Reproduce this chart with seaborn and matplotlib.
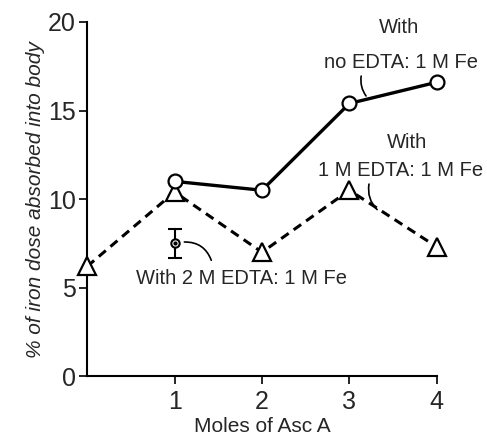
import matplotlib
matplotlib.use('Agg')
import matplotlib.pyplot as plt
import seaborn as sns
import pandas as pd

# values
moles_no_edta = [1, 2, 3, 4]
pct_no_edta = [11.0, 10.5, 15.4, 16.6]

moles_1m_edta = [0, 1, 2, 3, 4]
pct_1m_edta = [6.2, 10.4, 7.0, 10.5, 7.3]

moles_2m_edta = [1]
pct_2m_edta = [7.5]
err_2m_edta = [0.8]

x_ticks = [1, 2, 3, 4]
y_ticks = [0, 5, 10, 15, 20]

sns.set_style('ticks')
plt.rcParams['font.family'] = ['Liberation Sans', 'DejaVu Sans']

fig = plt.figure(figsize=(4.87, 4.4), dpi=100)
ax = fig.add_axes([0.179, 0.145, 0.718, 0.805])

df1 = pd.DataFrame({'x': moles_no_edta, 'y': pct_no_edta})
df2 = pd.DataFrame({'x': moles_1m_edta, 'y': pct_1m_edta})

sns.lineplot(data=df2, x='x', y='y', ax=ax, color='black', lw=2.2,
             linestyle=(0, (3, 2)), marker='^', markersize=13,
             markerfacecolor='white', markeredgecolor='black', markeredgewidth=1.6,
             zorder=3, clip_on=False)
sns.lineplot(data=df1, x='x', y='y', ax=ax, color='black', lw=2.4,
             marker='o', markersize=10,
             markerfacecolor='white', markeredgecolor='black', markeredgewidth=1.6,
             zorder=4, clip_on=False)
ax.errorbar(moles_2m_edta, pct_2m_edta, yerr=err_2m_edta, fmt='o', color='black',
            markersize=6, markerfacecolor='white', markeredgewidth=1.5,
            capsize=5, elinewidth=1.5, capthick=1.5, zorder=3)
ax.plot(moles_2m_edta, pct_2m_edta, 'o', color='black', markersize=2, zorder=4)

ax.set_xlim(0, 4)
ax.set_ylim(0, 20)
ax.set_xticks(x_ticks)
ax.set_yticks(y_ticks)
ax.tick_params(axis='both', labelsize=18, width=1.2, length=6, color='black')
ax.tick_params(axis='x', pad=4)
ax.tick_params(axis='y', pad=2)
sns.despine(ax=ax)
for s in ['left', 'bottom']:
    ax.spines[s].set_linewidth(1.5)
    ax.spines[s].set_color('black')

ax.set_xlabel('Moles of Asc A', fontsize=15, labelpad=2)
ax.set_ylabel('% of iron dose absorbed into body', fontsize=15, style='italic', labelpad=2)

txt = dict(fontsize=14.5, ha='center', va='center')
ax.text(3.57, 19.7, 'With', **txt)
ax.text(3.59, 17.7, 'no EDTA: 1 M Fe', **txt)
ax.text(3.66, 13.2, 'With', **txt)
ax.text(3.58, 11.6, '1 M EDTA: 1 M Fe', **txt)
ax.text(1.77, 5.5, 'With 2 M EDTA: 1 M Fe', **txt)

line = dict(arrowstyle='-', color='black', lw=1.2)
ax.annotate('', xy=(3.21, 15.7), xytext=(3.14, 17.1),
            arrowprops=dict(connectionstyle='arc3,rad=0.25', **line))
ax.annotate('', xy=(3.34, 9.3), xytext=(3.23, 11.0),
            arrowprops=dict(connectionstyle='arc3,rad=0.3', **line))
ax.annotate('', xy=(1.43, 6.4), xytext=(1.08, 7.57),
            arrowprops=dict(connectionstyle='arc3,rad=-0.4', **line))

fig.savefig('out.png', dpi=100)
